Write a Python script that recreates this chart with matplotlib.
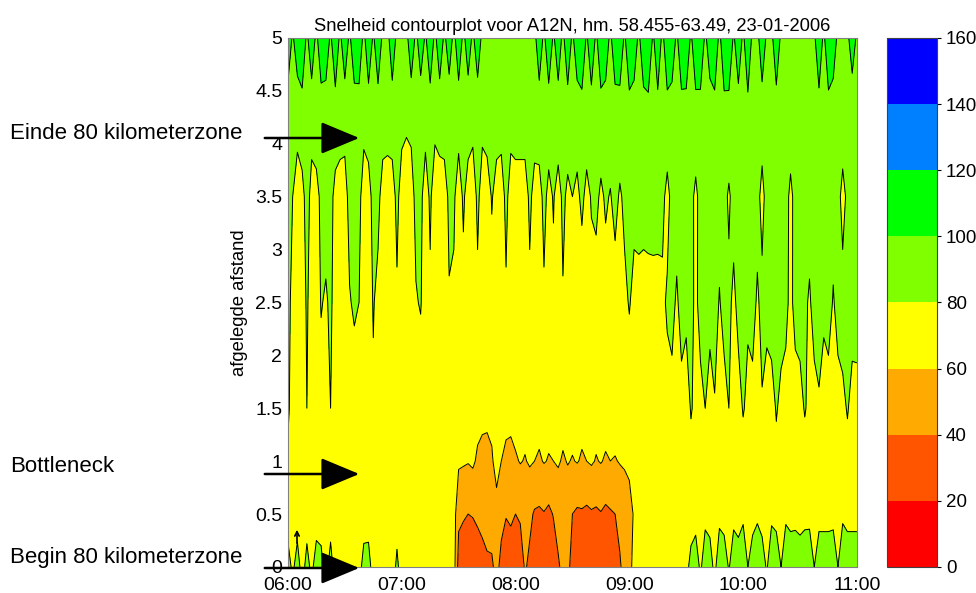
import numpy as np
import matplotlib.pyplot as plt
from matplotlib.colors import ListedColormap, BoundaryNorm

plt.rcParams['font.family'] = ['Liberation Sans', 'DejaVu Sans']

# time axis: minutes after 06:00, one column every 2.5 minutes
minutes = [2.5 * j for j in range(121)]
tick_minutes = [0, 60, 120, 180, 240, 300]
tick_labels = ['06:00', '07:00', '08:00', '09:00', '10:00', '11:00']

# distance (km) of each row of the speed table
distance = [0.0, 0.5, 1.0, 1.5, 2.5, 3.5, 4.2, 5.0]

# speeds (km/h), one list per distance (12 values = half an hour)
v_00 = [88, 76, 89, 72, 87, 75, 90, 86, 73, 88, 71, 72,
        71, 72, 73, 72, 88, 87, 72, 71, 73, 72, 71, 84,
        71, 72, 70, 71, 72, 71, 70, 72, 71, 70, 71, 69,
        32, 28, 30, 27, 31, 34, 37, 38, 44, 36, 29, 30,
        28, 31, 42, 36, 27, 25, 29, 26, 30, 38, 44, 45,
        33, 27, 25, 28, 26, 24, 27, 29, 26, 28, 38, 46,
        55, 65, 71, 72, 73, 74, 72, 73, 74, 75, 74, 76,
        76, 84, 86, 78, 87, 85, 77, 88, 86, 79, 87, 85,
        88, 80, 86, 89, 84, 79, 87, 86, 80, 88, 86, 89,
        83, 87, 90, 80, 86, 88, 84, 87, 80, 89, 86, 88,
        86]
v_05 = [71, 72, 70, 73, 71, 72, 70, 71, 72, 71, 70, 72,
        71, 70, 72, 71, 70, 72, 71, 70, 72, 71, 70, 72,
        71, 70, 72, 71, 70, 72, 71, 70, 72, 71, 70, 69,
        44, 42, 40, 41, 43, 45, 47, 46, 54, 44, 41, 43,
        40, 42, 48, 44, 38, 37, 39, 36, 41, 46, 49, 48,
        40, 37, 38, 36, 38, 37, 39, 36, 38, 40, 45, 50,
        53, 62, 70, 71, 72, 73, 72, 74, 73, 72, 74, 73,
        75, 74, 76, 75, 77, 76, 75, 77, 76, 78, 77, 76,
        78, 77, 76, 78, 77, 76, 78, 77, 76, 78, 77, 76,
        78, 77, 76, 78, 77, 76, 78, 77, 76, 78, 77, 76,
        77]
v_10 = [77, 71, 70, 71, 78, 70, 71, 70, 71, 77, 70, 71,
        70, 71, 70, 72, 71, 70, 71, 72, 70, 71, 70, 72,
        71, 72, 70, 71, 72, 70, 71, 72, 71, 70, 72, 71,
        63, 62, 61, 63, 57, 56, 53, 58, 66, 60, 56, 54,
        58, 61, 59, 62, 60, 58, 61, 59, 60, 62, 58, 61,
        59, 61, 58, 60, 62, 59, 61, 58, 60, 59, 61, 62,
        64, 68, 72, 71, 73, 72, 74, 73, 72, 74, 73, 75,
        74, 76, 75, 74, 76, 75, 77, 74, 76, 75, 74, 76,
        75, 77, 76, 74, 78, 75, 76, 77, 75, 76, 78, 74,
        76, 75, 77, 76, 78, 75, 76, 77, 75, 78, 76, 77,
        76]
v_15 = [83, 73, 72, 71, 80, 72, 71, 74, 72, 80, 71, 72,
        72, 72, 73, 74, 72, 71, 78, 72, 73, 72, 71, 73,
        73, 72, 74, 73, 72, 74, 73, 72, 73, 74, 72, 73,
        67, 68, 66, 65, 67, 64, 66, 65, 69, 68, 66, 67,
        68, 66, 67, 69, 68, 67, 68, 66, 67, 69, 68, 67,
        68, 69, 67, 68, 69, 67, 68, 69, 70, 69, 70, 71,
        72, 73, 72, 74, 73, 75, 74, 73, 75, 76, 74, 76,
        74, 81, 77, 76, 80, 75, 79, 76, 75, 80, 76, 75,
        81, 77, 76, 75, 79, 76, 75, 81, 77, 76, 80, 75,
        76, 81, 77, 75, 79, 76, 75, 80, 76, 77, 81, 76,
        77]
v_25 = [84, 76, 73, 72, 82, 73, 72, 81, 78, 83, 73, 72,
        73, 79, 82, 80, 72, 73, 81, 76, 72, 73, 72, 78,
        72, 71, 73, 79, 81, 72, 78, 71, 72, 73, 79, 78,
        71, 76, 70, 71, 77, 70, 72, 75, 71, 70, 78, 71,
        70, 72, 71, 77, 70, 71, 78, 70, 77, 71, 79, 72,
        73, 75, 72, 74, 76, 73, 75, 74, 76, 73, 75, 77,
        81, 76, 75, 77, 74, 76, 75, 77, 82, 84, 78, 85,
        83, 84, 77, 85, 83, 84, 86, 79, 85, 83, 77, 84,
        86, 82, 85, 78, 84, 83, 86, 81, 85, 83, 77, 84,
        85, 83, 78, 86, 84, 82, 85, 79, 84, 86, 83, 85,
        84]
v_35 = [86, 80, 74, 75, 86, 75, 74, 84, 87, 85, 75, 73,
        74, 85, 86, 84, 73, 74, 85, 84, 74, 75, 73, 84,
        73, 72, 74, 84, 83, 74, 82, 73, 74, 73, 83, 82,
        73, 82, 74, 72, 83, 74, 73, 81, 75, 72, 84, 73,
        74, 76, 73, 83, 75, 74, 84, 76, 81, 74, 83, 77,
        80, 77, 83, 76, 81, 84, 77, 82, 79, 85, 78, 83,
        85, 84, 86, 83, 87, 85, 86, 84, 75, 85, 86, 84,
        87, 85, 76, 86, 84, 85, 87, 86, 84, 78, 85, 87,
        86, 84, 87, 85, 75, 86, 84, 85, 87, 86, 76, 85,
        86, 84, 87, 85, 86, 84, 87, 85, 86, 74, 84, 86,
        85]
v_42 = [86, 88, 84, 89, 87, 85, 90, 86, 88, 84, 89, 87,
        85, 88, 86, 89, 84, 87, 85, 88, 86, 84, 87, 85,
        84, 82, 83, 87, 85, 84, 86, 83, 85, 87, 84, 86,
        85, 83, 86, 84, 85, 83, 86, 84, 85, 86, 83, 85,
        86, 84, 87, 85, 86, 88, 85, 87, 86, 88, 85, 87,
        88, 86, 89, 87, 88, 86, 89, 87, 88, 86, 89, 88,
        90, 88, 91, 89, 90, 88, 91, 89, 90, 88, 91, 89,
        90, 88, 91, 89, 90, 87, 90, 88, 91, 89, 90, 88,
        89, 91, 88, 90, 87, 89, 91, 88, 90, 87, 89, 91,
        88, 90, 87, 89, 91, 88, 90, 87, 89, 90, 88, 86,
        89]
v_50 = [115, 97, 113, 116, 96, 114, 95, 116, 112, 97, 115, 96,
        114, 96, 116, 113, 95, 115, 97, 114, 96, 94, 113, 95,
        96, 94, 115, 95, 112, 97, 116, 95, 114, 96, 112, 94,
        115, 95, 111, 96, 113, 95, 97, 94, 96, 95, 93, 96,
        95, 94, 97, 96, 95, 112, 96, 115, 97, 112, 95, 116,
        96, 114, 117, 97, 115, 96, 116, 113, 95, 117, 114, 97,
        116, 112, 96, 115, 118, 97, 114, 95, 116, 113, 96, 117,
        115, 97, 114, 117, 96, 112, 116, 95, 115, 118, 97, 114,
        96, 116, 95, 94, 114, 96, 95, 115, 96, 94, 97, 95,
        94, 96, 95, 97, 113, 96, 116, 112, 95, 97, 96, 110,
        97]

levels = [0, 20, 40, 60, 80, 100, 120, 140, 160]
band_colors = ['#ff0000', '#ff5500', '#ffaa00', '#ffff00',
               '#80ff00', '#00ff00', '#0080ff', '#0000ff']

speed = np.array([v_00, v_05, v_10, v_15, v_25, v_35, v_42, v_50])

fig = plt.figure(figsize=(9.76, 5.93), dpi=100)
ax = fig.add_axes([0.295, 0.044, 0.583, 0.892])

cmap = ListedColormap(band_colors)
norm = BoundaryNorm(levels, cmap.N)
cf = ax.contourf(minutes, distance, speed, levels=levels, cmap=cmap, norm=norm)
ax.contour(minutes, distance, speed, levels=levels, colors='black', linewidths=0.7)

ax.set_xlim(0, 300)
ax.set_ylim(0, 5)
ax.set_xticks(tick_minutes)
ax.set_xticklabels(tick_labels)
ax.set_yticks([0, 0.5, 1, 1.5, 2, 2.5, 3, 3.5, 4, 4.5, 5])
ax.set_yticklabels(['0', '0.5', '1', '1.5', '2', '2.5', '3', '3.5', '4', '4.5', '5'])
ax.tick_params(axis='y', length=0, labelsize=14, pad=4)
ax.tick_params(axis='x', length=0, labelsize=14, pad=7.5)
for s in ax.spines.values():
    s.set_color('#808080')
    s.set_linewidth(0.8)
ax.set_ylabel('afgelegde afstand', fontsize=13.3, labelpad=5)
ax.set_title('Snelheid contourplot voor A12N, hm. 58.455-63.49, 23-01-2006', fontsize=13.2, pad=5)

cax = fig.add_axes([0.909, 0.044, 0.051, 0.892])
cb = fig.colorbar(cf, cax=cax, ticks=levels)
cb.ax.tick_params(labelsize=13.5, length=3, direction='out')
cb.outline.set_edgecolor('#404040')
cb.outline.set_linewidth(0.8)

# annotations on the left
notes = [('Einde 80 kilometerzone', 133, 138),
         ('Bottleneck', 467, 474),
         ('Begin 80 kilometerzone', 558, 568)]
for label, ty, ay in notes:
    fig.text(10 / 976, 1 - ty / 593, label, fontsize=16, va='center', ha='left')
    ax.annotate('', xy=(362 / 976, 1 - ay / 593), xytext=(262 / 976, 1 - ay / 593),
                xycoords='figure fraction', textcoords='figure fraction',
                annotation_clip=False,
                arrowprops=dict(arrowstyle='-|>,head_length=1.2,head_width=0.5',
                                mutation_scale=20, color='black', lw=1.8))

ax.annotate('', xy=(297 / 976, 1 - 527 / 593), xytext=(297 / 976, 1 - 546 / 593),
            xycoords='figure fraction', textcoords='figure fraction',
            arrowprops=dict(arrowstyle='->', color='black', lw=1.2, mutation_scale=8))

plt.savefig('out.png', dpi=100)
